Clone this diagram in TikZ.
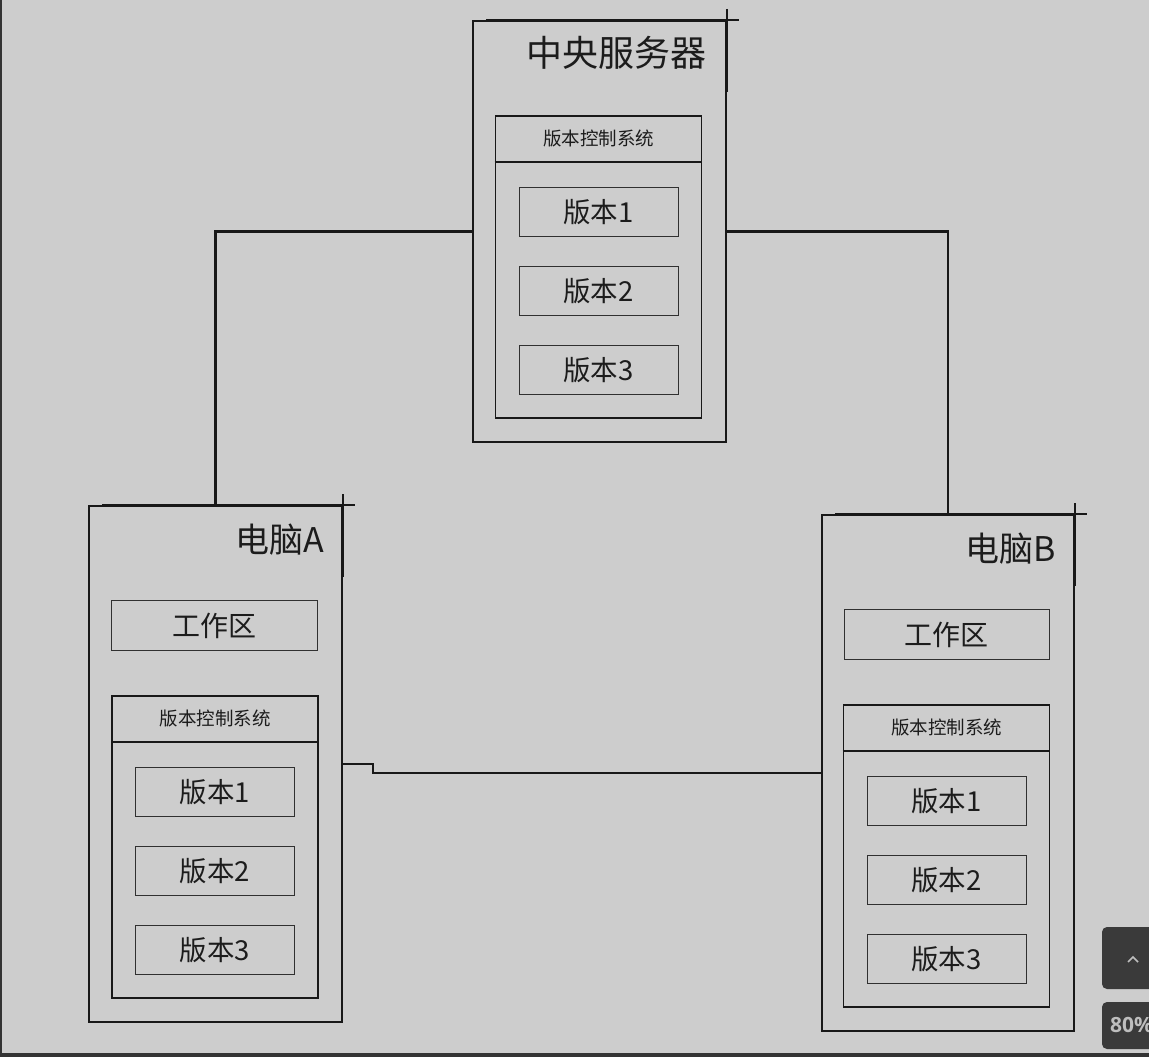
\documentclass[tikz,border=0pt]{standalone}
\usepackage{fontspec}
\newfontfamily\cjk{Noto Sans CJK SC}
\newfontfamily\uifont{Open Sans}
\usetikzlibrary{positioning,calc}
\definecolor{canvas}{RGB}{205,205,205}
\definecolor{frameline}{RGB}{51,51,51}
\definecolor{inkline}{RGB}{24,24,24}
\definecolor{boxline}{RGB}{48,48,48}
\definecolor{inktext}{RGB}{28,28,28}
\definecolor{widget}{RGB}{58,58,58}
\definecolor{widgettext}{RGB}{190,190,190}

\begin{document}
\begin{tikzpicture}[x=1pt,y=-1pt,font=\cjk,
    hostbox/.style={draw=inkline,line width=1.8pt,minimum width=#1,inner sep=0pt},
    vcsframe/.style={draw=inkline,line width=1.6pt,minimum width=206pt,inner sep=0pt},
    verbox/.style={draw=boxline,line width=1pt,minimum width=159pt,minimum height=49pt,
                   inner sep=0pt,text=inktext,font=\cjk\fontsize{27.5}{27.5}\selectfont},
    hostlabel/.style={anchor=east,text=inktext,inner sep=0pt},
    crossmark/.style={inkline,line width=2.4pt},
    link/.style={inkline,line width=2.2pt}]
  % canvas and screen frame
  \fill[canvas] (0,0) rectangle (1149,1057);
  \useasboundingbox (0,0) rectangle (1149,1057);
  \fill[frameline] (0,0) rectangle (2,1057);
  \fill[frameline] (0,1053) rectangle (1149,1057);

  % version-control block: prefix, centre x, top y
  \newcommand{\vcsblock}[3]{
    \node[vcsframe,minimum height=302pt,anchor=north] (#1vcs) at (#2,#3) {};
    \draw[inkline,line width=1.6pt] ($(#1vcs.north west)+(0,47)$) -- ($(#1vcs.north east)+(0,47)$);
    \node[text=inktext,font=\cjk\fontsize{18.5}{18.5}\selectfont] (#1head) at ($(#1vcs.north)+(0,23)$) {版本控制系统};
    \node[verbox,anchor=north] (#1v1) at ($(#1vcs.north)+(0,72)$) {版本1};
    \node[verbox,anchor=north] (#1v2) at ($(#1vcs.north)+(0,151)$) {版本2};
    \node[verbox,anchor=north] (#1v3) at ($(#1vcs.north)+(0,230)$) {版本3};}

  % central server
  \node[hostbox=253pt,minimum height=421pt,anchor=north west] (srv) at (472,20) {};
  \node[hostlabel,font=\cjk\fontsize{36}{36}\selectfont] (srvlabel) at (707,53) {中央服务器};
  \vcsblock{s}{598.5}{115}

  % computer A
  \node[hostbox=253pt,minimum height=516pt,anchor=north west] (cmpA) at (88,505) {};
  \node[hostlabel,font=\cjk\fontsize{34}{34}\selectfont] (cmpAlabel) at (324,540) {电脑A};
  \node[verbox,minimum width=206pt,minimum height=50pt,font=\cjk\fontsize{28}{28}\selectfont,anchor=north] (aws) at (214.5,600) {工作区};
  \vcsblock{a}{215}{695}

  % computer B
  \node[hostbox=252pt,minimum height=516pt,anchor=north west] (cmpB) at (821,514) {};
  \node[hostlabel,font=\cjk\fontsize{34}{34}\selectfont] (cmpBlabel) at (1056,549) {电脑B};
  \node[verbox,minimum width=205pt,minimum height=50pt,font=\cjk\fontsize{28}{28}\selectfont,anchor=north] (bws) at (946.5,609) {工作区};
  \vcsblock{b}{946.5}{704}

  % corner crosses
  \foreach \h in {srv,cmpA,cmpB}{
    \draw[crossmark] ($(\h.north west)+(14,0)$) -- ($(\h.north east)+(12,0)$);
    \draw[crossmark] ($(\h.north east)+(0,-11)$) -- ($(\h.north east)+(0,72)$);}

  % links
  \draw[link] (srv.west) -| (cmpA.north);
  \draw[link] (srv.east) -| (cmpB.north);
  \draw[link] (cmpA.east) -- ++(30,0) |- (cmpB.west);

  % viewer widget
  \begin{scope}
    \clip (0,0) rectangle (1149,1053);
    \fill[widget,rounded corners=5pt] (1102,927) rectangle (1170,989);
    \fill[widget,rounded corners=5pt] (1102,1002) rectangle (1170,1049);
  \end{scope}
  \draw[widgettext,line width=1.6pt] (1128,962) -- (1133,957) -- (1138,962);
  \node[anchor=west,inner sep=0pt,text=widgettext,font=\uifont\bfseries\fontsize{21}{21}\selectfont] (zoomlabel) at (1110,1025) {80\%};
\end{tikzpicture}
\end{document}
